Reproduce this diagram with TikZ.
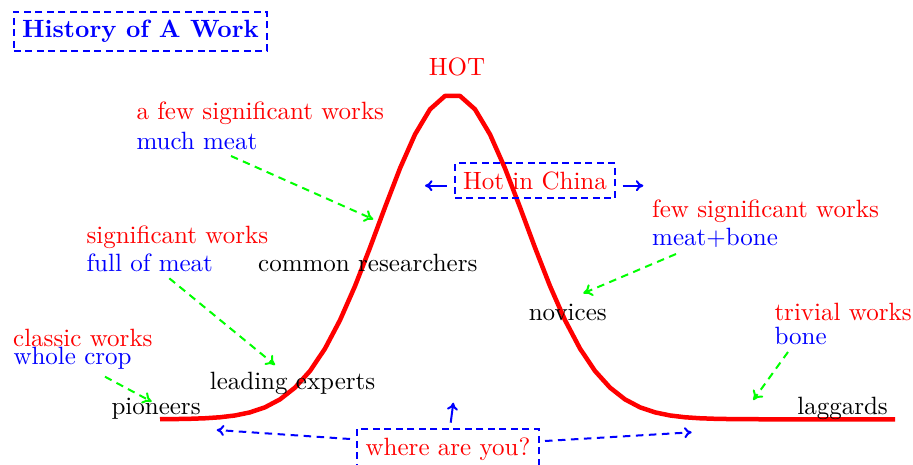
\documentclass[tikz,border=0pt]{standalone}
\usetikzlibrary{arrows.meta}
\begin{document}
\begin{tikzpicture}[x=0.4pt,y=-0.4pt,
  txt/.style={inner sep=0pt, anchor=base west},
  dbox/.style={draw=blue, thick, dash pattern=on 2.8pt off 1.8pt},
  garrow/.style={-{To[length=3.6pt,width=5pt]}, green, thick, dash pattern=on 3pt off 2.2pt},
  barrow/.style={-{To[length=3pt,width=4.4pt]}, blue, thick},
  bdarrow/.style={-{To[length=3pt,width=4.4pt]}, blue, thick, dash pattern=on 3pt off 2.2pt}]
\useasboundingbox (0,0) rectangle (913,465);

% curve
\draw[red, line width=1.8pt, line join=round]
  plot[domain=160:895, samples=50] (\x, {419.3 - 325*exp(-0.5*((\x-452.5)/73)^2)});

% nodes
\node[dbox, font=\bfseries, text=blue] (title) at (140.5,31.5) {History of A Work};
\node[text=red, anchor=base] (hot) at (457,76) {HOT};
\node[txt, text=red] (afew) at (136,119.3) {a few significant works};
\node[txt, text=blue] (much) at (136,149.3) {much meat};
\node[dbox, text=red, anchor=base] (china) at (535,189.3) {Hot in China};
\node[txt, text=red] (fewsig) at (651.7,217.3) {few significant works};
\node[txt, text=blue] (mb) at (651.7,246) {meat+bone};
\node[txt, text=red] (sig) at (86,243.3) {significant works};
\node[txt, text=blue] (full) at (86,271.7) {full of meat};
\node[txt] (common) at (257.7,271.7) {common researchers};
\node[txt] (nov) at (528.3,321) {novices};
\node[txt, text=red] (triv) at (774,321) {trivial works};
\node[txt, text=blue] (bone) at (774,345) {bone};
\node[txt, text=red] (classic) at (12.7,346) {classic works};
\node[txt, text=blue] (whole) at (13,365) {whole crop};
\node[txt] (lead) at (209.3,389.3) {leading experts};
\node[txt] (pion) at (111,414) {pioneers};
\node[inner sep=0pt, anchor=base east] (lag) at (888.3,415) {laggards};
\node[dbox, text=red, anchor=base] (where) at (448,455) {where are you?};

% arrow end points
\coordinate (g1a) at (231,156);   \coordinate (g1b) at (373.3,219.3);
\coordinate (g2a) at (169.3,278.3); \coordinate (g2b) at (275,365);
\coordinate (g3a) at (105,376.7); \coordinate (g3b) at (151.7,401.7);
\coordinate (g4a) at (676,254);   \coordinate (g4b) at (583.3,293.3);
\coordinate (g5a) at (788,352);   \coordinate (g5b) at (753.3,400);
\coordinate (c1a) at (446.7,185.7); \coordinate (c1b) at (425,185.7);
\coordinate (c2a) at (622.7,185.7); \coordinate (c2b) at (643.3,185.7);
\coordinate (w0a) at (450.7,422.7); \coordinate (w0b) at (453.3,402.7);
\coordinate (w1a) at (350,439);   \coordinate (w1b) at (216.7,430);
\coordinate (w2a) at (545,441);   \coordinate (w2b) at (691.7,432.3);

\draw[garrow] (g1a) -- (g1b);
\draw[garrow] (g2a) -- (g2b);
\draw[garrow] (g3a) -- (g3b);
\draw[garrow] (g4a) -- (g4b);
\draw[garrow] (g5a) -- (g5b);
\draw[barrow] (c1a) -- (c1b);
\draw[barrow] (c2a) -- (c2b);
\draw[barrow] (w0a) -- (w0b);
\draw[bdarrow] (w1a) -- (w1b);
\draw[bdarrow] (w2a) -- (w2b);
\end{tikzpicture}
\end{document}
